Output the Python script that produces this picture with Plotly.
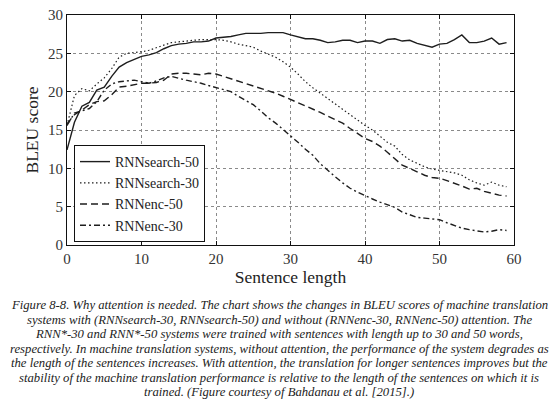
import plotly.graph_objects as go

# sentence length (x) and BLEU scores
sentence_length = list(range(60))

rnnsearch_50 = [12.4, 16.0, 18.1, 18.6, 20.2, 20.6, 22.0, 23.2, 23.8, 24.2,
                24.6, 24.8, 25.1, 25.6, 26.0, 26.2, 26.3, 26.5, 26.5, 26.6,
                27.0, 27.1, 27.2, 27.4, 27.6, 27.6, 27.6, 27.7, 27.7, 27.7,
                27.4, 27.1, 26.9, 26.9, 26.7, 26.4, 26.5, 26.7, 26.7, 26.4,
                26.6, 26.6, 26.3, 26.8, 26.9, 26.6, 26.7, 26.3, 26.0, 25.8,
                26.2, 26.3, 26.8, 27.4, 26.4, 26.4, 26.6, 27.0, 26.2, 26.4]

rnnsearch_30 = [15.6, 19.5, 20.4, 20.1, 21.0, 21.8, 23.0, 24.5, 25.0, 25.1,
                25.2, 25.4, 25.7, 26.1, 26.4, 26.5, 26.6, 26.7, 26.8, 26.8,
                26.8, 26.7, 26.5, 26.2, 26.0, 25.8, 25.3, 24.9, 24.5, 23.9,
                23.2, 22.3, 21.3, 20.5, 19.8, 19.0, 18.3, 17.7, 17.0, 16.3,
                15.6, 15.0, 14.2, 13.4, 12.9, 11.8, 11.1, 10.6, 10.2, 9.9,
                9.7, 9.6, 9.4, 9.1, 8.5, 8.1, 7.8, 8.2, 7.8, 7.6]

rnnenc_50 = [15.8, 17.0, 17.6, 18.3, 18.7, 18.8, 19.6, 20.6, 20.7, 20.9,
             21.1, 21.1, 21.2, 21.5, 22.3, 22.4, 22.4, 22.3, 22.2, 22.4,
             22.3, 22.0, 21.7, 21.4, 21.1, 20.7, 20.4, 20.1, 19.8, 19.4,
             19.0, 18.6, 18.1, 17.7, 17.3, 16.8, 16.4, 15.9, 15.2, 14.5,
             13.9, 13.5, 12.9, 12.1, 11.2, 10.4, 10.0, 9.5, 9.1, 8.8,
             8.7, 8.4, 8.1, 7.7, 7.3, 7.4, 7.0, 6.7, 6.5, 6.4]

rnnenc_30 = [15.6, 17.2, 17.5, 17.8, 18.7, 20.2, 21.0, 21.3, 21.4, 21.5,
             21.3, 21.1, 21.4, 21.8, 22.0, 21.7, 21.5, 21.3, 21.1, 20.8,
             20.5, 20.2, 20.0, 19.4, 18.9, 18.3, 17.5, 16.6, 15.9, 15.1,
             14.2, 13.4, 12.5, 11.7, 10.6, 9.7, 8.9, 8.1, 7.4, 6.9,
             6.4, 6.0, 5.6, 5.2, 4.9, 4.3, 3.9, 3.6, 3.5, 3.4,
             3.3, 2.9, 2.5, 2.2, 2.0, 1.8, 1.7, 1.8, 2.0, 1.9]

series_names = ["RNNsearch-50", "RNNsearch-30", "RNNenc-50", "RNNenc-30"]

caption_lines = [
    "Figure 8-8. Why attention is needed. The chart shows the changes in BLEU scores of machine translation",
    "systems with (RNNsearch-30, RNNsearch-50) and without (RNNenc-30, RNNenc-50) attention. The",
    "RNN*-30 and RNN*-50 systems were trained with sentences with length up to 30 and 50 words,",
    "respectively. In machine translation systems, without attention, the performance of the system degrades as",
    "the length of the sentences increases. With attention, the translation for longer sentences improves but the",
    "stability of the machine translation performance is relative to the length of the sentences on which it is",
    "trained. (Figure courtesy of Bahdanau et al. [2015].)",
]

SERIF = "Liberation Serif"
LINE = "#1e1e1e"

# the page body adds an 8px margin, so the figure is drawn a bit smaller
OFF = 8
W, H = 560 - OFF, 409 - OFF
# plot area as seen in the screenshot
LEFT, RIGHT, TOP, BOTTOM = 67, 514, 15, 245

fig = go.Figure()

dashes = ["solid", "1.5px,2.5px", "7px,4px", "6px,3px,2px,3px"]
widths = [1.4, 1.2, 1.4, 1.4]
all_values = [rnnsearch_50, rnnsearch_30, rnnenc_50, rnnenc_30]

for name, values, dash, lw in zip(series_names, all_values, dashes, widths):
    fig.add_trace(go.Scatter(
        x=sentence_length,
        y=values,
        mode="lines",
        name=name,
        line=dict(color=LINE, width=lw, dash=dash)
    ))


def py(px):
    return (BOTTOM - px) / (BOTTOM - TOP)


def px_x(px):
    return (px - LEFT) / (RIGHT - LEFT)


caption_y = [305, 320, 334, 349, 363, 378, 392]
for text, ypix in zip(caption_lines, caption_y):
    fig.add_annotation(
        text="<i>" + text + "</i>",
        xref="paper", yref="paper",
        x=px_x(279), y=py(ypix),
        xanchor="center", yanchor="middle",
        showarrow=False,
        font=dict(family=SERIF, size=12.7, color="#222")
    )

axis_common = dict(
    showline=True, linecolor="#111", linewidth=1.2, mirror="ticks",
    ticks="inside", ticklen=4, tickcolor="#111",
    showgrid=True, gridcolor="#8a8a8a", gridwidth=1, griddash="dot",
    zeroline=False, automargin=False, ticklabeloverflow="allow",
    tickfont=dict(family=SERIF, size=15, color="#333"),
)

fig.update_layout(
    width=W, height=H,
    margin=dict(l=LEFT - OFF, r=560 - RIGHT, t=TOP - OFF, b=409 - BOTTOM),
    paper_bgcolor="white",
    plot_bgcolor="white",
    font=dict(family=SERIF, color="#222"),
    xaxis=dict(
        range=[0, 60], dtick=10,
        title=dict(text="Sentence length", font=dict(family=SERIF, size=17.5, color="#222"), standoff=2),
        **axis_common
    ),
    yaxis=dict(
        range=[0, 30], dtick=5,
        title=dict(text="BLEU score", font=dict(family=SERIF, size=17.5, color="#222"), standoff=4),
        **axis_common
    ),
    legend=dict(
        x=px_x(74), y=py(242),
        xanchor="left", yanchor="bottom",
        bgcolor="white", bordercolor="#111", borderwidth=1,
        font=dict(family=SERIF, size=14, color="#222"),
        tracegroupgap=0,
    ),
)

fig.write_html("out.html")
